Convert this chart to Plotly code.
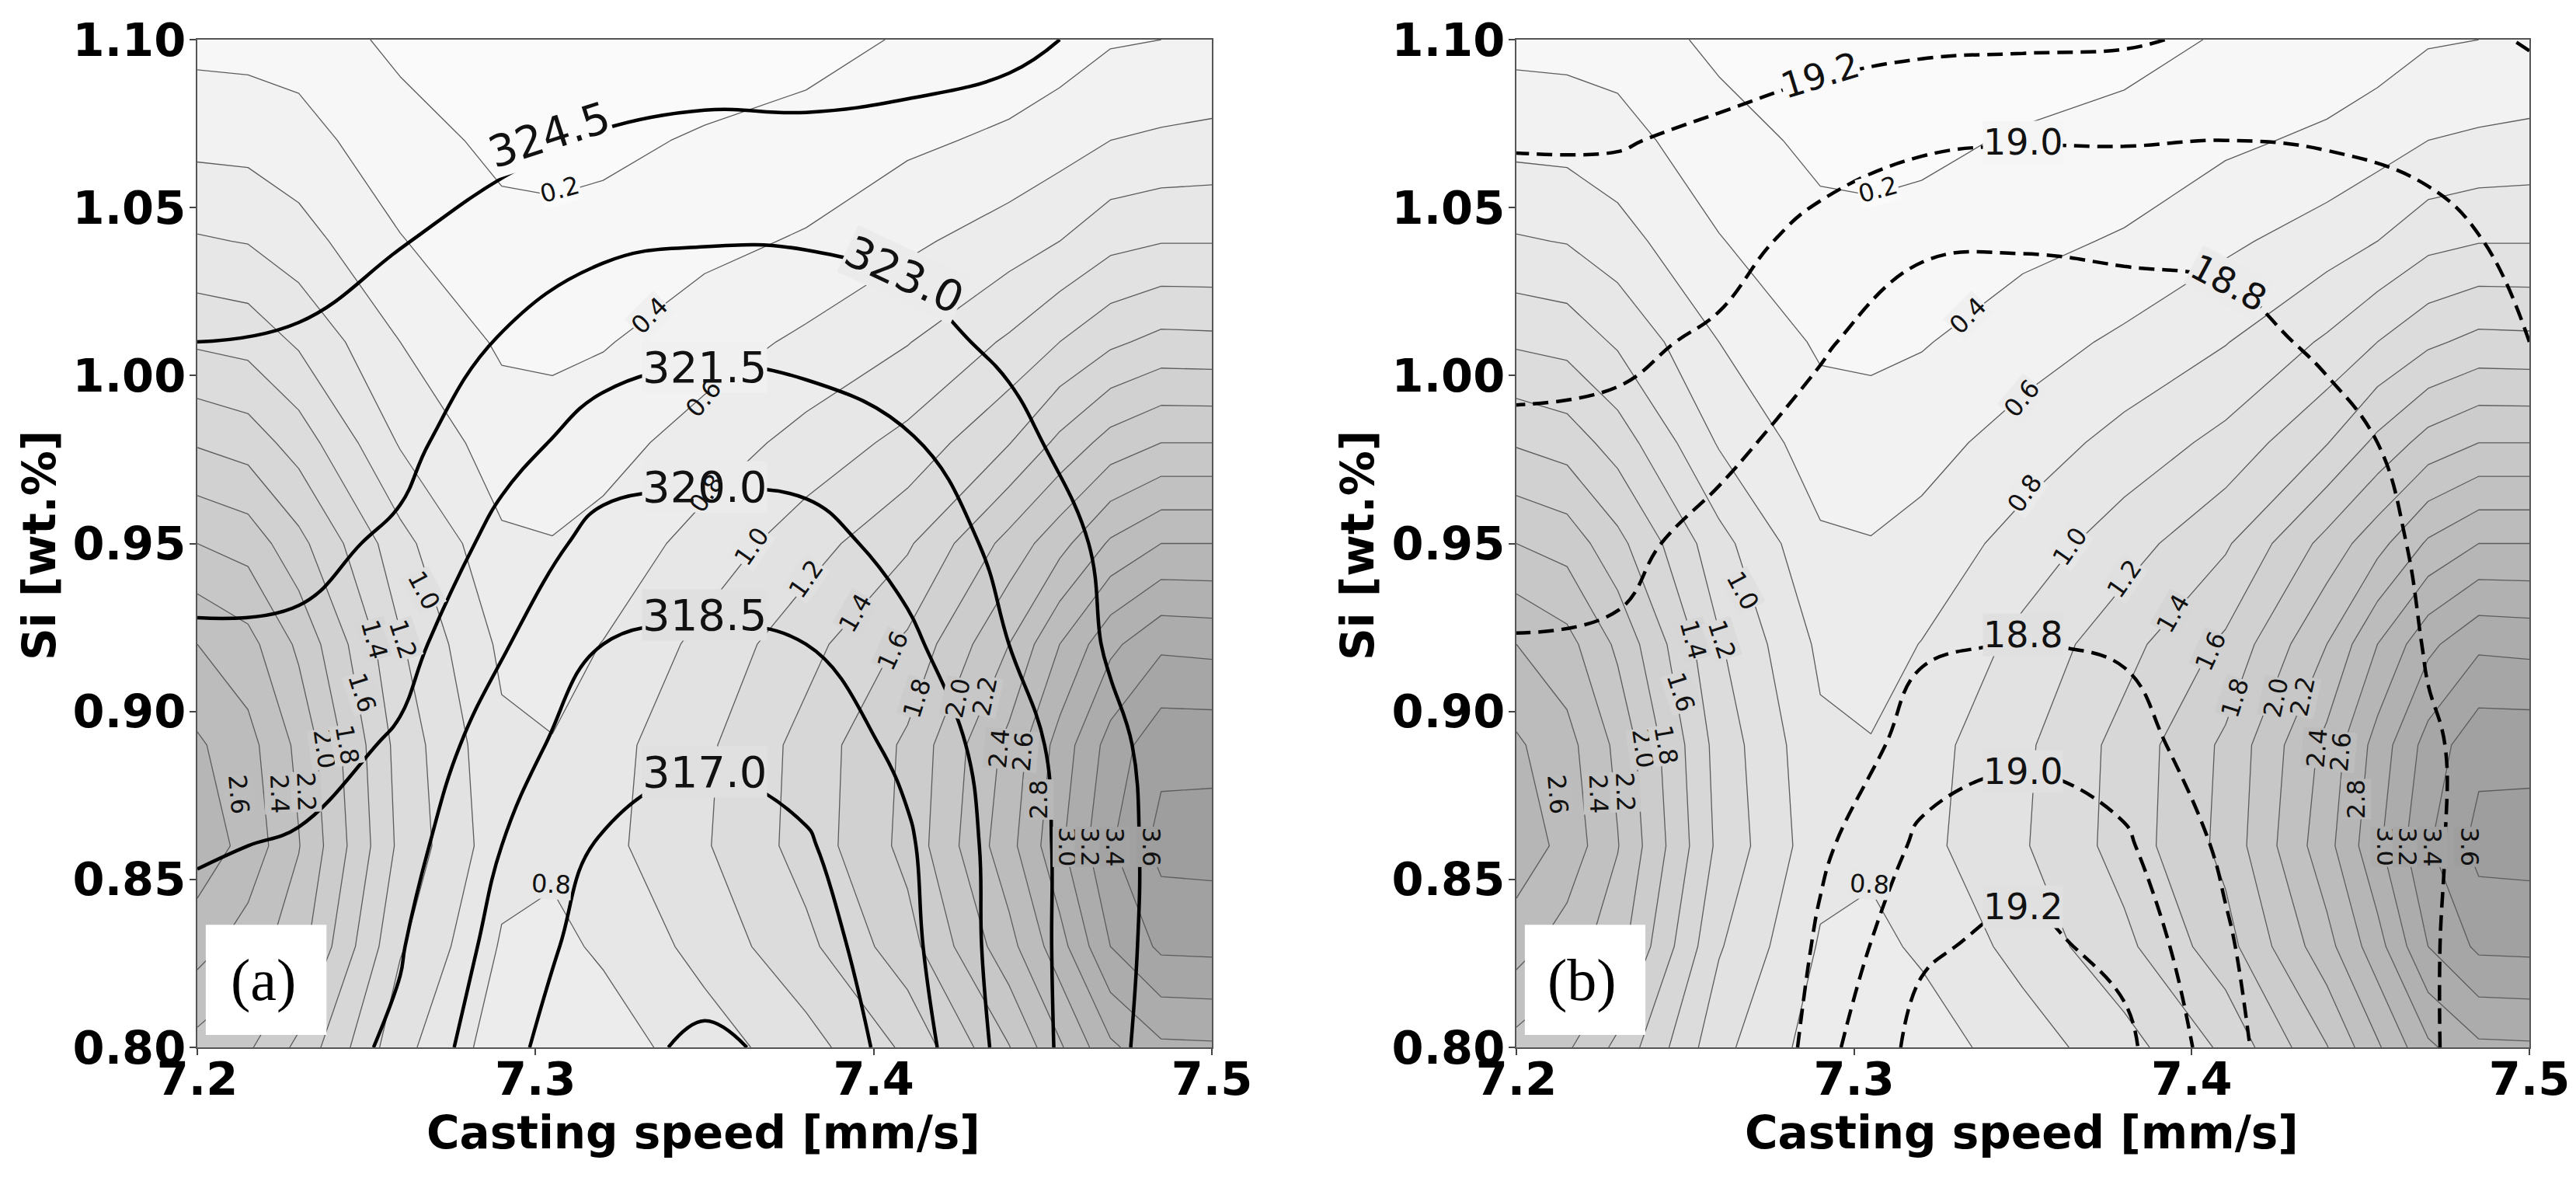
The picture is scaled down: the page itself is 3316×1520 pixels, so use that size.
import plotly.graph_objects as go

# Gray field (both panels), rows from y=0.80 upward
grid_x = [7.2, 7.215, 7.23, 7.26, 7.29, 7.305, 7.32, 7.35, 7.38, 7.41, 7.44, 7.455, 7.47, 7.485, 7.5]
grid_y = [0.80, 0.83, 0.86, 0.89, 0.92, 0.95, 0.98, 1.01, 1.04, 1.07, 1.10]
gray_z = [
    [2.13, 2.03, 1.75, 1.06, .70, .68, .70, .90, 1.12, 1.44, 1.99, 2.37, 2.76, 2.96, 2.97],
    [2.48, 2.30, 2.08, 1.22, .78, .75, .83, 1.07, 1.35, 1.72, 2.33, 2.72, 3.20, 3.44, 3.45],
    [2.73, 2.53, 2.21, 1.35, .87, .84, .94, 1.18, 1.48, 1.86, 2.53, 2.96, 3.38, 3.67, 3.68],
    [2.63, 2.47, 2.15, 1.32, .84, .81, .92, 1.16, 1.47, 1.84, 2.46, 2.88, 3.28, 3.54, 3.54],
    [2.40, 2.27, 1.96, 1.22, .76, .72, .806, 1.06, 1.33, 1.64, 2.20, 2.60, 2.95, 3.16, 3.14],
    [2.00, 1.92, 1.66, 1.07, .63, .61, .667, .88, 1.11, 1.37, 1.87, 2.13, 2.43, 2.60, 2.60],
    [1.58, 1.51, 1.31, .78, .50, .48, .525, .687, .87, 1.06, 1.39, 1.65, 1.88, 2.00, 2.00],
    [1.17, 1.13, .97, .60, .37, .36, .386, .505, .64, .79, 1.03, 1.20, 1.36, 1.46, 1.45],
    [.82, .79, .68, .41, .26, .25, .276, .35, .42, .56, .70, .80, .94, .99, .99],
    [.54, .53, .47, .286, .15, .14, .15, .225, .27, .36, .44, .51, .60, .63, .65],
    [.34, .33, .32, .15, .06, .05, .03, .06, .13, .22, .25, .30, .38, .40, .42],
]

# Overlay fields
over_x = [7.2, 7.23, 7.26, 7.29, 7.32, 7.35, 7.38, 7.41, 7.44, 7.47, 7.5]
temp_z = [
    [320.6, 320.7, 319.75, 317.4, 315.95, 315.25, 315.85, 317.65, 320.55, 322.7, 324.2],
    [321.0, 321.05, 320.1, 318.0, 316.25, 316.2, 316.25, 318.1, 320.7, 322.6, 324.1],
    [321.65, 321.35, 320.6, 318.5, 316.85, 316.5, 316.85, 318.3, 320.7, 322.6, 324.0],
    [322.3, 322.15, 321.3, 319.1, 317.7, 317.2, 317.6, 318.85, 320.85, 322.7, 324.1],
    [322.85, 322.75, 322.0, 320.15, 318.5, 318.3, 318.5, 319.7, 321.5, 323.15, 324.2],
    [323.42, 323.4, 322.75, 321.05, 319.45, 319.4, 319.4, 320.55, 321.9, 323.3, 324.3],
    [323.96, 323.95, 323.4, 322.0, 320.9, 320.55, 320.75, 321.35, 322.55, 323.9, 324.4],
    [324.5, 324.38, 323.95, 322.9, 322.1, 321.8, 321.95, 322.5, 323.3, 324.1, 324.4],
    [325.1, 325.0, 324.55, 324.0, 323.25, 323.07, 323.1, 323.35, 323.85, 324.2, 324.4],
    [325.6, 325.5, 325.2, 324.8, 324.4, 324.2, 324.25, 324.15, 324.1, 324.1, 324.1],
    [326.1, 326.0, 325.8, 325.5, 325.3, 325.2, 325.15, 325.0, 324.7, 324.3, 324.15],
]
stress_z = [
    [18.30, 18.25, 18.35, 18.93, 19.27, 19.41, 19.25, 18.88, 18.55, 18.78, 18.95],
    [18.42, 18.35, 18.40, 18.84, 19.17, 19.26, 19.14, 18.83, 18.52, 18.78, 18.95],
    [18.55, 18.48, 18.45, 18.76, 19.04, 19.11, 19.03, 18.76, 18.50, 18.77, 18.95],
    [18.67, 18.62, 18.45, 18.62, 18.90, 18.96, 18.90, 18.66, 18.48, 18.77, 18.95],
    [18.79, 18.77, 18.50, 18.57, 18.77, 18.81, 18.77, 18.58, 18.50, 18.82, 18.96],
    [18.88, 18.86, 18.72, 18.60, 18.65, 18.68, 18.65, 18.54, 18.58, 18.86, 18.96],
    [18.97, 18.95, 18.86, 18.70, 18.57, 18.62, 18.60, 18.55, 18.70, 18.90, 18.98],
    [19.05, 19.04, 18.97, 18.83, 18.65, 18.66, 18.68, 18.70, 18.85, 18.94, 19.00],
    [19.13, 19.12, 19.07, 18.94, 18.84, 18.82, 18.84, 18.87, 18.91, 18.94, 19.05],
    [19.21, 19.21, 19.17, 19.09, 19.03, 19.01, 19.01, 19.00, 19.01, 19.05, 19.12],
    [19.30, 19.30, 19.28, 19.27, 19.24, 19.23, 19.22, 19.17, 19.12, 19.15, 19.21],
]

x_ticks = [7.2, 7.3, 7.4, 7.5]
y_ticks = [0.80, 0.85, 0.90, 0.95, 1.00, 1.05, 1.10]
x_title = "Casting speed [mm/s]"
y_title = "Si [wt.%]"

# label text, x, y, angle
gray_labels = [
    ("0.2", 7.3071, 1.0554, -15), ("0.4", 7.3338, 1.0178, -45), ("0.6", 7.3496, .9932, -50),
    ("0.8", 7.3505, .9649, -55), ("1.0", 7.3640, .9492, -55), ("1.2", 7.3800, .9395, -55),
    ("1.4", 7.3946, .9292, -60), ("1.6", 7.4056, .9180, -65), ("1.8", 7.4129, .9040, -72),
    ("2.0", 7.4250, .9040, -78), ("2.2", 7.4328, .9046, -78), ("2.4", 7.4372, .8890, -85),
    ("2.6", 7.4440, .8880, -85), ("2.8", 7.4487, .8738, -90), ("3.0", 7.4574, .8597, 90),
    ("3.2", 7.4640, .8597, 90), ("3.4", 7.4713, .8597, 90), ("3.6", 7.4822, .8597, 90),
    ("2.6", 7.2122, .8754, 85), ("2.4", 7.2243, .8754, 88), ("2.2", 7.2321, .8760, 88),
    ("2.0", 7.2377, .8889, 82), ("1.8", 7.2443, .8900, 80), ("1.6", 7.2487, .9057, 72),
    ("1.4", 7.2523, .9214, 75), ("1.2", 7.2608, .9214, 72), ("1.0", 7.2670, .9360, 62),
    ("0.8", 7.3046, .8485, 3),
]
temp_labels = [
    ("324.5", 7.304, 1.0716, -18), ("323.0", 7.409, 1.030, 25), ("321.5", 7.35, 1.0025, 0),
    ("320.0", 7.35, .967, 0), ("318.5", 7.35, .9287, 0), ("317.0", 7.35, .882, 0),
]
stress_labels = [
    ("19.2", 7.2899, 1.0893, -17), ("19.0", 7.35, 1.0694, 0), ("18.8", 7.411, 1.0277, 28),
    ("18.8", 7.35, .9228, 0), ("19.0", 7.35, .8822, 0), ("19.2", 7.35, .8418, 0),
]

W, H = 3316, 1520
PAGE = 8  # the page body adds this offset around the figure
FONT = "DejaVu Sans"
LIGHT, DARK = 250, 158


def band_color(v):
    top = (int(v / 0.2) + 1) * 0.2
    g = round(LIGHT - (top - 0.2) / 3.6 * (LIGHT - DARK))
    return f"rgb({g},{g},{g})"


def locate(axis, v):
    k = max(0, min(len(axis) - 2, sum(1 for a in axis if a <= v) - 1))
    return k, (v - axis[k]) / (axis[k + 1] - axis[k])


def shade_at(x, y):
    i, s = locate(grid_y, y)
    j, t = locate(grid_x, x)
    v = ((1 - s) * (1 - t) * gray_z[i][j] + (1 - s) * t * gray_z[i][j + 1]
         + s * (1 - t) * gray_z[i + 1][j] + s * t * gray_z[i + 1][j + 1])
    return band_color(v)


fig = go.Figure()
for xa, ya, over_z, start, end, size, dash in [
    ("x", "y", temp_z, 315.5, 324.5, 1.5, "solid"),
    ("x2", "y2", stress_z, 18.8, 19.2, 0.2, "20px,10px"),
]:
    fig.add_trace(go.Contour(
        x=grid_x, y=grid_y, z=gray_z, xaxis=xa, yaxis=ya, showscale=False, hoverinfo="skip",
        autocontour=False, zmin=0.2, zmax=3.8,
        contours=dict(start=0, end=3.8, size=0.2, coloring="fill", showlabels=False),
        colorscale=[[0, f"rgb({LIGHT},{LIGHT},{LIGHT})"], [1, f"rgb({DARK},{DARK},{DARK})"]],
        line=dict(color="#5c5c5c", width=1.3, smoothing=0),
    ))
    fig.add_trace(go.Contour(
        x=over_x, y=grid_y, z=over_z, xaxis=xa, yaxis=ya, showscale=False, hoverinfo="skip",
        autocontour=False,
        contours=dict(start=start, end=end, size=size, coloring="none", showlabels=False),
        line=dict(color="black", width=4.5, dash=dash, smoothing=1.2),
    ))

annotations = []
for xa, ya, big, big_size, panel in [("x", "y", temp_labels, 56, "a"), ("x2", "y2", stress_labels, 46, "b")]:
    for text, x, y, rot in big:
        annotations.append(dict(xref=xa, yref=ya, x=x, y=y, text=text, textangle=rot, showarrow=False,
                                font=dict(family=FONT, size=big_size, color="#111"), bgcolor=shade_at(x, y),
                                borderpad=0))
    for text, x, y, rot in gray_labels:
        # in panel (a) these two labels sit on top of the large labels, with no gap of their own
        over_big = panel == "a" and text in ("0.6", "0.8") and y > 0.9
        annotations.append(dict(xref=xa, yref=ya, x=x, y=y, text=text, textangle=rot, showarrow=False,
                                font=dict(family=FONT, size=32, color="#111"),
                                bgcolor="rgba(0,0,0,0)" if over_big else shade_at(x, y), borderpad=0))
for xa, ya, tag in [("x", "y", "(a)"), ("x2", "y2", "(b)")]:
    annotations.append(dict(xref=xa, yref=ya, x=7.2195, y=.8201, text=tag, showarrow=False,
                            font=dict(family="Liberation Serif", size=76, color="black")))
for centre_x in (906, 2602):
    annotations.append(dict(xref="paper", yref="paper", x=(centre_x - PAGE) / W, y=(H - 1458 + PAGE) / H,
                            text=x_title, showarrow=False, xanchor="center", yanchor="middle",
                            font=dict(family=FONT, size=58, weight="bold", color="black")))
for centre_x in (51, 1748):
    annotations.append(dict(xref="paper", yref="paper", x=(centre_x - PAGE) / W, y=(H - 702 + PAGE) / H,
                            text=y_title, textangle=-90, showarrow=False, xanchor="center", yanchor="middle",
                            font=dict(family=FONT, size=58, weight="bold", color="black")))

shapes = [dict(type="rect", xref=xa, yref=ya, x0=7.2025, x1=7.2382, y0=.8037, y1=.8365,
               fillcolor="white", line=dict(width=0), layer="above")
          for xa, ya in [("x", "y"), ("x2", "y2")]]

x_common = dict(range=[7.2, 7.5], tickvals=x_ticks, tickformat=".1f", ticks="outside", ticklen=8, tickwidth=2,
                tickcolor="#444", showline=True, mirror=True, linecolor="#555", linewidth=2, showgrid=False,
                zeroline=False, automargin=False, ticklabelstandoff=-20,
                tickfont=dict(family=FONT, size=59, weight="bold", color="black"))
y_common = dict(range=[0.8, 1.1], tickvals=y_ticks, tickformat=".2f", ticks="outside", ticklen=8, tickwidth=2,
                tickcolor="#444", showline=True, mirror=True, linecolor="#555", linewidth=2, showgrid=False,
                zeroline=False, automargin=False, ticklabelstandoff=-7,
                tickfont=dict(family=FONT, size=59, weight="bold", color="black"))

fig.update_layout(
    width=W, height=H, autosize=False, showlegend=False, paper_bgcolor="white", plot_bgcolor="white",
    margin=dict(l=0, r=0, t=0, b=0),
    xaxis=dict(domain=[(254 - PAGE) / W, (1560 - PAGE) / W], anchor="y", **x_common),
    yaxis=dict(domain=[(H - 1348 + PAGE) / H, (H - 51 + PAGE) / H], anchor="x", **y_common),
    xaxis2=dict(domain=[(1952 - PAGE) / W, (3256 - PAGE) / W], anchor="y2", **x_common),
    yaxis2=dict(domain=[(H - 1348 + PAGE) / H, (H - 51 + PAGE) / H], anchor="x2", **y_common),
    annotations=annotations, shapes=shapes,
)
fig.write_html("out.html", config=dict(displayModeBar=False))
